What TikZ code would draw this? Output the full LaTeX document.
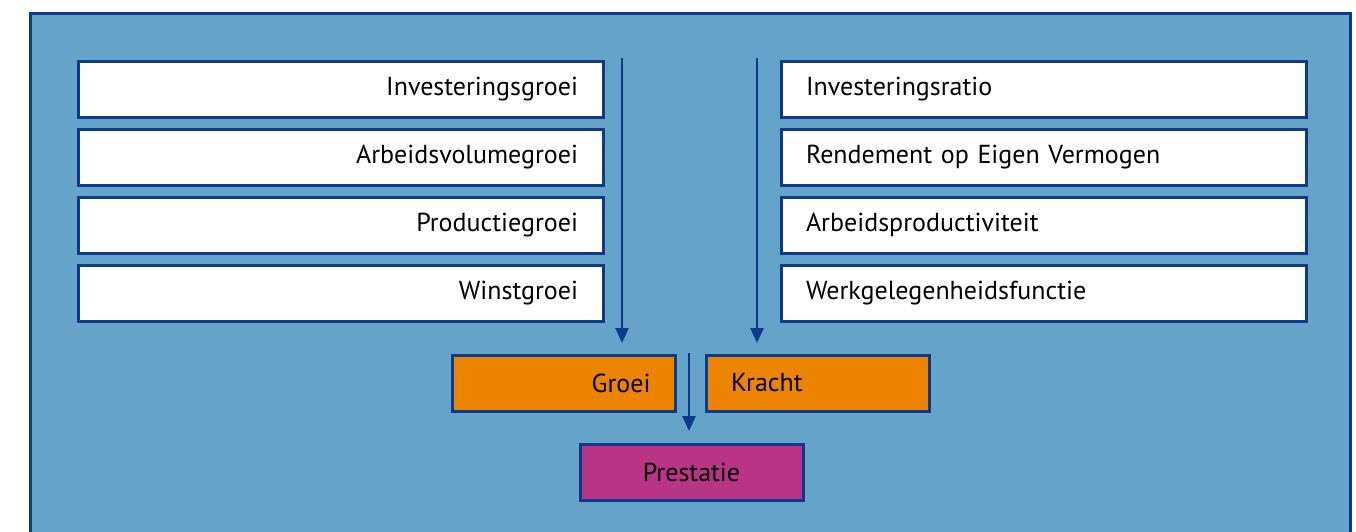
\documentclass[tikz,border=0pt]{standalone}
\usepackage{fontspec}
\setmainfont{PT Sans}
\usetikzlibrary{arrows.meta}
\definecolor{bgblue}{RGB}{101,164,200}
\definecolor{dkblue}{RGB}{14,58,140}
\definecolor{orng}{RGB}{237,132,0}
\definecolor{mgnt}{RGB}{184,52,132}
\tikzset{
  box/.style={draw=dkblue, line width=3pt, minimum height=56pt, inner sep=0pt, font=\fontsize{26}{31}\selectfont, text=black},
  lbox/.style={box, fill=white, minimum width=525pt, text width=475pt, align=right},
  rbox/.style={box, fill=white, minimum width=525pt, text width=475pt, align=left},
  sbox/.style={box, minimum width=223pt},
  arr/.style={draw=dkblue, line width=2.5pt, -{Triangle[length=15pt,width=13pt]}}
}
\begin{document}
\begin{tikzpicture}[x=1pt,y=-1pt]
\useasboundingbox (0,0) rectangle (1356,531);
\draw[fill=bgblue, draw=dkblue, line width=3pt] (30,13) rectangle (1350,560);
\node[lbox] (l1) at (340.5,89) {Investeringsgroei};
\node[lbox] (l2) at (340.5,157) {Arbeidsvolumegroei};
\node[lbox] (l3) at (340.5,225) {Productiegroei};
\node[lbox] (l4) at (340.5,293) {Winstgroei};
\node[rbox] (r1) at (1043.5,89) {Investeringsratio};
\node[rbox] (r2) at (1043.5,157) {Rendement op Eigen Vermogen};
\node[rbox] (r3) at (1043.5,225) {Arbeidsproductiviteit};
\node[rbox] (r4) at (1043.5,293) {Werkgelegenheidsfunctie};
\node[sbox, fill=orng, text width=174pt, align=right] (g) at (563.5,383) {Groei};
\node[sbox, fill=orng, text width=174pt, align=left] (k) at (818,383) {Kracht};
\node[sbox, fill=mgnt] (p) at (691.5,472) {Prestatie};
\coordinate (la) at (622,58);
\coordinate (lb) at (622,343);
\coordinate (ra) at (757,58);
\coordinate (rb) at (757,343);
\coordinate (ma) at (689,353);
\coordinate (mb) at (689,431);
\draw[arr] (la) -- (lb);
\draw[arr] (ra) -- (rb);
\draw[arr] (ma) -- (mb);
\end{tikzpicture}
\end{document}
